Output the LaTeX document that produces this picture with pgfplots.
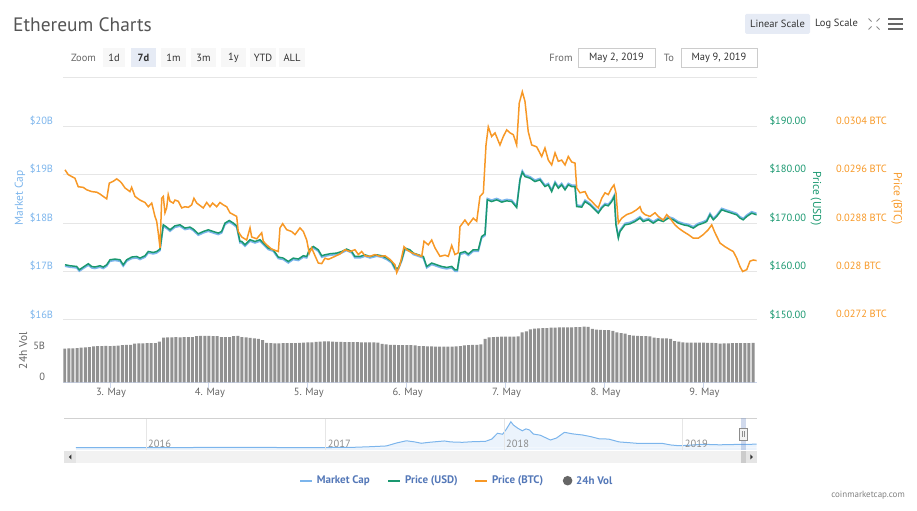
\documentclass[border=0pt]{standalone}
\usepackage{pgfplots}
\pgfplotsset{compat=1.18}
\usepackage{pgfplotstable}
\usepackage{fontspec}
\setmainfont{PT Sans}
\definecolor{mcap}{RGB}{124,181,236}
\definecolor{usd}{RGB}{26,152,112}
\definecolor{btc}{RGB}{247,152,38}
\definecolor{gridc}{RGB}{230,230,230}
\definecolor{txt}{RGB}{102,102,102}
\definecolor{dark}{RGB}{51,51,51}
\definecolor{legtxt}{RGB}{84,120,184}
\definecolor{axisc}{RGB}{204,214,235}
\definecolor{btnbg}{RGB}{247,247,247}
\definecolor{btnsel}{RGB}{230,235,245}
\definecolor{volc}{RGB}{145,145,145}
\definecolor{navfill}{RGB}{235,243,252}
\definecolor{maskc}{RGB}{102,133,194}

\pgfplotstableread{
day usd mcap
2.545 161.40 17.110
2.596 161.20 17.090
2.663 161.05 17.075
2.690 160.37 17.007
2.730 160.93 17.063
2.781 161.61 17.131
2.815 161.05 17.075
2.848 160.93 17.063
2.899 161.20 17.090
2.932 160.93 17.063
2.967 161.40 17.110
3.000 162.43 17.213
3.051 162.58 17.228
3.101 162.43 17.213
3.134 161.40 17.110
3.169 162.43 17.213
3.219 162.99 17.269
3.270 163.11 17.281
3.303 162.78 17.248
3.354 163.26 17.296
3.387 164.14 17.384
3.438 163.94 17.364
3.472 164.14 17.384
3.506 164.64 17.434
3.539 169.65 17.935
3.573 169.18 17.888
3.607 168.62 17.832
3.657 169.44 17.914
3.708 169.65 17.935
3.758 168.97 17.867
3.809 169.18 17.888
3.842 168.76 17.846
3.893 167.79 17.749
3.943 168.27 17.797
3.994 168.62 17.832
4.044 168.27 17.797
4.095 167.94 17.764
4.129 168.27 17.797
4.163 170.00 17.970
4.206 170.54 18.024
4.247 170.00 17.970
4.281 169.44 17.914
4.314 166.21 17.591
4.332 166.21 17.591
4.365 165.53 17.523
4.416 166.56 17.626
4.466 166.21 17.591
4.517 166.56 17.626
4.550 165.88 17.558
4.601 164.84 17.454
4.651 164.49 17.419
4.702 162.99 17.269
4.752 162.78 17.248
4.803 162.08 17.178
4.853 162.78 17.248
4.904 162.58 17.228
4.955 163.26 17.296
4.989 163.11 17.281
5.015 164.49 17.419
5.056 165.17 17.487
5.106 164.49 17.419
5.141 163.26 17.296
5.174 163.46 17.316
5.224 163.67 17.337
5.292 163.81 17.351
5.343 164.14 17.384
5.393 164.64 17.434
5.444 164.14 17.384
5.477 163.11 17.281
5.528 163.11 17.281
5.578 163.46 17.316
5.629 163.11 17.281
5.697 163.46 17.316
5.747 163.26 17.296
5.798 162.78 17.248
5.848 162.08 17.178
5.882 160.72 17.042
5.915 160.72 17.042
5.949 162.43 17.213
5.983 164.84 17.454
6.033 164.49 17.419
6.067 163.81 17.351
6.117 163.46 17.316
6.168 163.11 17.281
6.202 161.05 17.075
6.253 161.75 17.145
6.303 161.40 17.110
6.354 161.05 17.075
6.404 160.85 17.055
6.455 161.05 17.075
6.488 160.37 17.007
6.512 160.37 17.007
6.539 163.81 17.351
6.589 164.14 17.384
6.623 163.61 17.331
6.673 164.49 17.419
6.724 164.49 17.419
6.758 167.24 17.694
6.792 167.73 17.743
6.815 174.80 18.510
6.859 174.45 18.475
6.910 174.80 18.510
6.961 174.33 18.463
7.011 174.60 18.490
7.062 174.45 18.475
7.112 173.22 18.352
7.146 178.93 18.923
7.169 180.52 19.082
7.196 179.61 18.991
7.247 179.28 18.958
7.297 178.58 18.888
7.348 178.93 18.923
7.398 177.55 18.785
7.432 177.90 18.820
7.466 176.52 18.682
7.500 178.25 18.855
7.533 177.22 18.752
7.567 177.90 18.820
7.601 176.87 18.717
7.634 177.90 18.820
7.668 177.55 18.785
7.702 177.55 18.785
7.719 173.42 18.372
7.770 173.30 18.360
7.803 174.45 18.475
7.853 173.77 18.407
7.904 172.74 18.304
7.937 172.06 18.236
7.972 173.09 18.339
8.005 173.77 18.407
8.038 173.57 18.387
8.073 174.45 18.475
8.099 175.48 18.578
8.116 169.65 17.995
8.140 166.91 17.721
8.157 168.27 17.857
8.207 169.65 17.995
8.258 169.86 18.016
8.308 170.33 18.063
8.359 171.03 18.133
8.392 170.33 18.063
8.443 170.68 18.098
8.493 170.00 18.030
8.544 170.68 18.098
8.594 170.33 18.063
8.645 171.03 18.133
8.696 170.68 18.098
8.746 170.00 18.030
8.797 169.65 17.995
8.847 169.44 17.974
8.898 168.97 17.927
8.948 169.65 17.995
8.999 170.00 18.030
9.033 170.33 18.063
9.067 171.71 18.201
9.100 170.68 18.098
9.134 171.36 18.166
9.185 172.74 18.304
9.235 172.39 18.269
9.286 172.06 18.236
9.337 171.71 18.201
9.370 171.03 18.133
9.403 170.68 18.098
9.438 171.36 18.166
9.488 172.06 18.236
9.539 171.71 18.201
}\usdtable

\pgfplotstableread{
day btc
2.545 0.02968
2.578 0.02960
2.646 0.02954
2.679 0.02940
2.730 0.02939
2.764 0.02935
2.815 0.02932
2.866 0.02931
2.899 0.02928
2.932 0.02924
2.967 0.02920
2.993 0.02946
3.033 0.02949
3.068 0.02953
3.101 0.02949
3.118 0.02946
3.152 0.02938
3.202 0.02932
3.219 0.02939
3.253 0.02924
3.303 0.02918
3.354 0.02914
3.387 0.02907
3.422 0.02913
3.455 0.02891
3.472 0.02883
3.488 0.02864
3.506 0.02839
3.523 0.02921
3.539 0.02924
3.556 0.02897
3.573 0.02905
3.589 0.02927
3.607 0.02916
3.640 0.02913
3.657 0.02918
3.691 0.02916
3.725 0.02905
3.758 0.02907
3.792 0.02906
3.826 0.02910
3.849 0.02921
3.877 0.02913
3.910 0.02909
3.943 0.02905
3.978 0.02914
4.011 0.02907
4.038 0.02913
4.079 0.02907
4.112 0.02914
4.146 0.02910
4.180 0.02907
4.213 0.02897
4.247 0.02894
4.281 0.02891
4.297 0.02866
4.332 0.02857
4.382 0.02852
4.416 0.02872
4.433 0.02857
4.483 0.02854
4.534 0.02864
4.550 0.02850
4.584 0.02844
4.635 0.02837
4.702 0.02833
4.719 0.02872
4.746 0.02879
4.787 0.02869
4.837 0.02866
4.871 0.02861
4.921 0.02872
4.955 0.02866
4.989 0.02852
5.015 0.02830
5.039 0.02839
5.073 0.02826
5.106 0.02814
5.141 0.02813
5.174 0.02822
5.207 0.02820
5.275 0.02825
5.326 0.02829
5.376 0.02836
5.427 0.02833
5.477 0.02836
5.511 0.02828
5.545 0.02833
5.578 0.02826
5.629 0.02825
5.679 0.02828
5.730 0.02825
5.781 0.02826
5.831 0.02820
5.882 0.02811
5.899 0.02798
5.932 0.02811
5.973 0.02841
6.000 0.02836
6.051 0.02831
6.101 0.02828
6.152 0.02825
6.175 0.02850
6.218 0.02844
6.253 0.02852
6.286 0.02839
6.337 0.02825
6.387 0.02827
6.421 0.02825
6.455 0.02843
6.488 0.02828
6.522 0.02831
6.539 0.02874
6.589 0.02885
6.623 0.02877
6.673 0.02888
6.708 0.02883
6.741 0.02924
6.775 0.02930
6.802 0.03009
6.825 0.03039
6.859 0.03023
6.893 0.03029
6.943 0.03009
6.977 0.03023
7.011 0.03034
7.045 0.03029
7.078 0.03026
7.112 0.03009
7.138 0.03078
7.169 0.03097
7.196 0.03081
7.229 0.03031
7.264 0.03009
7.314 0.03006
7.365 0.02990
7.398 0.03004
7.432 0.02984
7.466 0.02976
7.500 0.02996
7.533 0.02982
7.567 0.02984
7.601 0.02976
7.634 0.02990
7.668 0.02981
7.702 0.02979
7.719 0.02938
7.752 0.02930
7.803 0.02932
7.836 0.02921
7.871 0.02916
7.904 0.02910
7.937 0.02905
7.972 0.02921
8.005 0.02930
8.038 0.02927
8.073 0.02938
8.096 0.02943
8.116 0.02930
8.140 0.02880
8.174 0.02888
8.224 0.02894
8.275 0.02897
8.325 0.02902
8.359 0.02907
8.376 0.02899
8.409 0.02894
8.460 0.02891
8.511 0.02897
8.544 0.02891
8.594 0.02885
8.629 0.02894
8.662 0.02888
8.713 0.02877
8.746 0.02872
8.797 0.02866
8.847 0.02861
8.898 0.02855
8.948 0.02855
8.999 0.02861
9.049 0.02869
9.084 0.02877
9.117 0.02864
9.168 0.02847
9.218 0.02841
9.269 0.02836
9.302 0.02833
9.337 0.02822
9.370 0.02808
9.397 0.02800
9.438 0.02803
9.471 0.02817
9.504 0.02819
9.539 0.02818
}\btctable

\pgfplotstableread{
h vol
0 5.45
1 5.47
2 5.48
3 5.50
4 5.60
5 5.65
6 5.66
7 5.80
8 5.84
9 5.85
10 5.86
11 5.85
12 5.87
13 5.90
14 6.00
15 6.02
16 6.05
17 6.25
18 6.28
19 6.29
20 6.30
21 6.30
22 6.32
23 6.55
24 7.20
25 7.25
26 7.26
27 7.27
28 7.26
29 7.28
30 7.27
31 7.30
32 7.45
33 7.47
34 7.48
35 7.47
36 7.46
37 7.45
38 7.30
39 7.27
40 7.30
41 7.45
42 7.47
43 7.30
44 7.25
45 7.15
46 7.10
47 7.00
48 6.80
49 6.35
50 6.30
51 6.29
52 6.29
53 6.30
54 6.30
55 6.32
56 6.33
57 6.35
58 6.40
59 6.45
60 6.45
61 6.50
62 6.55
63 6.60
64 6.62
65 6.58
66 6.52
67 6.50
68 6.48
69 6.48
70 6.47
71 6.46
72 6.45
73 6.45
74 6.45
75 6.44
76 6.40
77 6.20
78 6.10
79 6.05
80 6.02
81 6.00
82 6.00
83 6.00
84 6.00
85 5.95
86 5.85
87 5.82
88 5.80
89 5.78
90 5.77
91 5.76
92 5.75
93 5.75
94 5.76
95 5.78
96 5.85
97 5.95
98 6.00
99 6.02
100 6.05
101 6.10
102 7.00
103 7.25
104 7.30
105 7.33
106 7.35
107 7.35
108 7.36
109 7.36
110 7.40
111 8.05
112 8.20
113 8.55
114 8.65
115 8.70
116 8.72
117 8.75
118 8.80
119 8.82
120 8.85
121 8.85
122 8.86
123 8.87
124 8.88
125 8.90
126 8.97
127 8.95
128 8.60
129 8.50
130 8.45
131 8.42
132 8.40
133 8.30
134 8.05
135 7.95
136 7.85
137 7.60
138 7.52
139 7.47
140 7.45
141 7.45
142 7.40
143 7.20
144 7.12
145 7.10
146 7.08
147 7.00
148 6.65
149 6.55
150 6.42
151 6.40
152 6.39
153 6.39
154 6.38
155 6.38
156 6.36
157 6.35
158 6.32
159 6.25
160 6.28
161 6.28
162 6.30
163 6.30
164 6.30
165 6.32
166 6.32
167 6.35
}\voltable

\pgfplotstableread{
yr cap
2015.609 0.0
2015.900 0.5
2016.200 0.8
2016.450 1.5
2016.700 1.0
2017.000 0.8
2017.145 1.5
2017.250 5
2017.341 9
2017.400 25
2017.453 36
2017.500 30
2017.536 23
2017.580 28
2017.665 35
2017.700 30
2017.765 28
2017.820 31
2017.894 33
2017.930 45
2017.961 75
2017.990 70
2018.010 95
2018.036 135
2018.050 118
2018.075 101
2018.100 88
2018.120 98
2018.140 92
2018.162 71
2018.200 65
2018.257 40
2018.290 50
2018.335 80
2018.380 72
2018.436 66
2018.480 58
2018.530 46
2018.581 45
2018.640 30
2018.698 26
2018.750 22
2018.800 23
2018.877 23
2018.930 14
2018.972 10.4
2019.020 12
2019.106 17.7
2019.200 15
2019.335 17.7
2019.408 18
}\navtable

\pgfplotsset{
  mainax/.style={
    scale only axis, width=693.4bp, height=242.2bp,
    at={(63.3bp,191bp)}, anchor=south west,
    xmin=2.528, xmax=9.539,
    xtick=\empty, axis line style={draw=none}, major tick length=0pt,
    ytick style={draw=none},
    scaled y ticks=false,
    ticklabel style={font=\fontsize{10.5}{12}\selectfont, inner sep=0pt},
  },
}

\begin{document}
\begin{tikzpicture}[x=1bp,y=1bp]
\path[use as bounding box] (0,0) rectangle (917,511);

% ---------- header ----------
\node[anchor=base west, inner sep=0pt, text={rgb,255:red,85;green,85;blue,85}, font=\fontsize{19.5}{22}\selectfont] at (13,479.7) {Ethereum Charts};
\fill[btnsel, rounded corners=1.5bp] (745,477) rectangle (810,497);
\node[font=\fontsize{10.5}{12}\selectfont, text=dark] at (777.5,487) {Linear Scale};
\node[font=\fontsize{10.5}{12}\selectfont, text=dark] at (836.5,487) {Log Scale};
\draw[black!45, line width=0.8bp] (868.5,492.5)--(871.5,489.5) (879.5,492.5)--(876.5,489.5) (868.5,481.5)--(871.5,484.5) (879.5,481.5)--(876.5,484.5);
\draw[txt, line width=2bp] (888,492)--(903,492) (888,487)--(903,487) (888,482)--(903,482);

\node[font=\fontsize{10.5}{12}\selectfont, text=txt] at (83.5,453.5) {Zoom};
\foreach \a/\b/\t in {103/125/1d,161/186/1m,191/216/3m,221/246/1y,250/276/YTD,279/305/ALL}{
  \fill[btnbg] (\a,444) rectangle (\b,463);
  \node[font=\fontsize{10.5}{12}\selectfont, text=dark] at ({(\a+\b)/2},453.5) {\t};
}
\fill[btnsel] (131,444) rectangle (156,463);
\node[font=\bfseries\fontsize{10.5}{12}\selectfont, text=dark] at (143.5,453.5) {7d};
\node[font=\fontsize{10.5}{12}\selectfont, text=txt] at (561,453.5) {From};
\draw[black!20, fill=white] (578,444) rectangle (655,463);
\node[font=\fontsize{10.5}{12}\selectfont, text=dark] at (616.5,453.5) {May 2, 2019};
\node[font=\fontsize{10.5}{12}\selectfont, text=txt] at (669,453.5) {To};
\draw[black!20, fill=white] (681,444) rectangle (757,463);
\node[font=\fontsize{10.5}{12}\selectfont, text=dark] at (719,453.5) {May 9, 2019};

\draw[gridc, line width=1bp] (63.3,433.2) -- (756.7,433.2);

% ---------- main panel: market cap ----------
\begin{axis}[mainax, ymin=16, ymax=21,
  ytick={16,17,18,19,20}, yticklabels={\$16B,\$17B,\$18B,\$19B,\$20B},
  ymajorgrids, grid style={gridc, line width=1bp},
  yticklabel style={text=mcap, anchor=east, xshift=-10bp, yshift=5.6bp}]
\addplot[mcap, line width=1.6bp] table[x=day,y=mcap]{\usdtable};
\end{axis}

% ---------- price USD ----------
\begin{axis}[mainax, ymin=150, ymax=200, axis y line*=right, axis x line=none,
  ytick={150,160,170,180,190}, yticklabels={\$150.00,\$160.00,\$170.00,\$180.00,\$190.00},
  yticklabel style={text=usd, anchor=west, xshift=12.6bp, yshift=5.6bp}]
\addplot[usd, line width=1.5bp] table[x=day,y=usd]{\usdtable};
\end{axis}

% ---------- price BTC ----------
\begin{axis}[mainax, ymin=0.027199, ymax=0.0312, axis y line*=right, axis x line=none,
  ytick={0.0272,0.028,0.0288,0.0296,0.0304},
  yticklabels={0.0272 BTC,0.028 BTC,0.0288 BTC,0.0296 BTC,0.0304 BTC},
  yticklabel style={text=btc, anchor=west, xshift=79.3bp, yshift=5.6bp}]
\addplot[btc, line width=1.5bp] table[x=day,y=btc]{\btctable};
\end{axis}

% ---------- volume ----------
\begin{axis}[scale only axis, width=693.4bp, height=62.3bp,
  at={(63.3bp,128.7bp)}, anchor=south west,
  xmin=-0.33, xmax=167.9, ymin=0, ymax=10.05,
  axis x line*=bottom, axis y line*=left,
  x axis line style={draw=axisc, line width=1bp},
  y axis line style={draw=none},
  xtick={11,35,59,83,107,131,155}, xticklabels={},
  xtick style={draw=axisc, line width=1bp}, tick align=outside, major tick length=6bp,
  ytick={0,5}, yticklabels={0,5B}, ytick style={draw=none},
  yticklabel style={font=\fontsize{10.5}{12}\selectfont, inner sep=0pt, text=txt, anchor=east, xshift=-12bp, yshift=5.6bp},
  clip=true]
\addplot[ybar, bar width=3.0bp, fill=volc, draw=none] table[x=h,y=vol]{\voltable};
\end{axis}

\foreach \x/\t in {110/3. May,208.9/4. May,307.8/5. May,406.7/6. May,505.6/7. May,604.5/8. May,703.4/9. May}{
  \node[font=\fontsize{10.5}{12}\selectfont, text=txt] at (\x+1,118.3) {\t};
}

% ---------- axis titles ----------
\node[rotate=90, font=\fontsize{11.5}{13}\selectfont, text=mcap] at (20,313) {Market Cap};
\node[rotate=90, font=\fontsize{11.5}{13}\selectfont, text=txt] at (23,160.5) {24h Vol};
\node[rotate=-90, font=\fontsize{11.5}{13}\selectfont, text=usd] at (816,312.7) {Price (USD)};
\node[rotate=-90, font=\fontsize{11.5}{13}\selectfont, text=btc] at (896.7,312.7) {Price (BTC)};

% ---------- navigator ----------
\begin{axis}[scale only axis, width=692.4bp, height=31.7bp,
  at={(64.3bp,61bp)}, anchor=south west,
  xmin=2015.544, xmax=2019.408, ymin=-12, ymax=153,
  axis line style={draw=none}, ticks=none, clip=true]
\fill[navfill] (axis cs:2015.609,-12) rectangle (axis cs:2019.408,0);
\addplot[draw=none, fill=navfill] table[x=yr,y=cap]{\navtable} \closedcycle;
\addplot[mcap, line width=1bp] table[x=yr,y=cap]{\navtable};
\end{axis}
\foreach \x/\t in {146/2016,325.7/2017,504/2018,682.7/2019}{
  \draw[gridc, line width=1bp] (\x,60.5) -- (\x,92.7);
  \node[anchor=west, inner sep=0pt, font=\fontsize{10.5}{12}\selectfont, text=black!45] at (\x+2,66.7) {\t};
}
\draw[black!18, line width=1bp] (64.3,92.7) -- (756.7,92.7);
\fill[maskc, opacity=0.3] (741,60.5) rectangle (746,92.7);
\draw[black!45, fill=black!5, line width=0.7bp] (739,71) rectangle (747,83);
\draw[black!45, line width=0.7bp] (742,74)--(742,80) (744,74)--(744,80);

% scrollbar
\fill[black!5] (64.3,47.7) rectangle (756.7,60.3);
\fill[black!10] (64.3,47.7) rectangle (76.3,60.3);
\fill[black!20] (741,47.7) rectangle (745.5,60.3);
\fill[black!10] (745.5,47.7) rectangle (756.7,60.3);
\fill[dark] (68.8,54) -- (71.3,56.5) -- (71.3,51.5) -- cycle;
\fill[dark] (752.8,54) -- (750.3,56.5) -- (750.3,51.5) -- cycle;

% ---------- legend ----------
\draw[mcap, line width=2bp] (300,30.3) -- (312,30.3);
\node[anchor=west, inner sep=0pt, font=\bfseries\fontsize{11}{13}\selectfont, text=legtxt] at (316.7,30.3) {Market Cap};
\draw[usd, line width=2bp] (388,30.3) -- (400,30.3);
\node[anchor=west, inner sep=0pt, font=\bfseries\fontsize{11}{13}\selectfont, text=legtxt] at (405,30.3) {Price (USD)};
\draw[btc, line width=2bp] (475,30.3) -- (487,30.3);
\node[anchor=west, inner sep=0pt, font=\bfseries\fontsize{11}{13}\selectfont, text=legtxt] at (492,30.3) {Price (BTC)};
\fill[txt] (567.6,30.3) circle (4.8);
\node[anchor=west, inner sep=0pt, font=\bfseries\fontsize{11}{13}\selectfont, text=legtxt] at (576,30.3) {24h Vol};

\node[anchor=east, inner sep=0pt, font=\fontsize{9}{11}\selectfont, text=black!50] at (905,16) {coinmarketcap.com};
\end{tikzpicture}
\end{document}
